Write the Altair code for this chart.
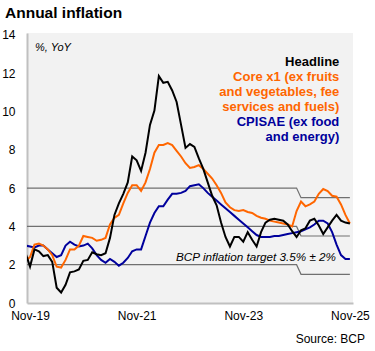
import altair as alt
import pandas as pd

# month index: 0 = Nov-19, 72 = Nov-25 (index -1 = Oct-19, clipped at the plot edge)
months = list(range(-1, 73))

headline = [2.6, 1.9, 2.8, 2.7, 2.45, 2.5, 2.15, 0.8, 0.55, 0.95, 1.6, 1.65, 1.75,
            2.2, 2.25, 2.65, 2.55, 2.5, 2.6, 3.4, 4.6, 5.2, 5.7, 6.3, 7.65,
            7.45, 6.9, 7.85, 9.3, 10.05, 11.85, 11.5, 11.55, 11.1, 10.5, 9.3, 8.1,
            8.3, 8.15, 7.55, 7.0, 6.3, 5.6, 5.1, 4.2, 3.45, 2.95, 3.45, 3.45,
            3.2, 3.7, 3.3, 2.95, 3.7, 4.2, 4.35, 4.4, 4.35, 4.3, 4.1, 3.75,
            3.45, 3.8, 3.9, 4.3, 4.4, 4.05, 3.6, 3.95, 4.3, 4.6, 4.3, 4.2, 4.15]

core = [2.2, 2.4, 3.05, 3.1, 3.0, 2.8, 2.5, 1.9, 1.85, 2.25, 2.8, 2.8, 3.0,
        3.5, 3.45, 3.4, 3.25, 3.3, 3.4, 4.1, 4.45, 4.6, 5.2, 5.75, 6.15,
        6.15, 5.85, 6.3, 7.0, 7.85, 8.25, 8.25, 8.35, 8.25, 7.95, 7.65, 7.3,
        7.05, 7.1, 7.2, 7.0, 6.75, 6.5, 6.15, 5.75, 5.25, 5.0, 4.85, 4.8,
        4.85, 4.75, 4.7, 4.55, 4.45, 4.4, 4.3, 4.25, 4.2, 4.15, 4.1, 4.0,
        4.8, 5.3, 5.05, 5.15, 5.3, 5.7, 5.95, 5.85, 5.6, 5.55, 5.15, 4.6, 4.15]

cpisae = [3.0, 2.95, 2.9, 3.0, 3.0, 2.8, 2.6, 2.4, 2.5, 3.0, 3.2, 3.05, 2.95,
          3.0, 3.1, 2.85, 2.5, 2.25, 2.1, 2.3, 2.15, 1.95, 2.1, 2.35, 2.7,
          2.8, 2.8, 3.5, 4.2, 4.7, 5.05, 5.05, 5.4, 5.7, 5.7, 5.75, 5.85,
          6.1, 6.15, 6.2, 6.0, 5.75, 5.55, 5.35, 5.15, 4.95, 4.75, 4.55, 4.35,
          4.15, 3.95, 3.75, 3.55, 3.45, 3.45, 3.45, 3.5, 3.5, 3.55, 3.6, 3.65,
          3.7, 3.75, 3.85, 3.95, 4.1, 4.3, 4.3, 4.15, 3.7, 3.05, 2.5, 2.3, 2.3]

# BCP inflation target band (4% until Nov-24, 3.5% from Dec-24, +/- 2%)
target_months = [-1, 60, 61, 72]
target_upper = [6.0, 6.0, 5.5, 5.5]
target_center = [4.0, 4.0, 3.5, 3.5]
target_lower = [2.0, 2.0, 1.5, 1.5]

x_tick_values = [0, 24, 48, 72]
x_tick_labels = ["Nov-19", "Nov-21", "Nov-23", "Nov-25"]
y_tick_values = [0, 2, 4, 6, 8, 10, 12, 14]

FONT = "Liberation Sans"
ORANGE = "#FF6600"
BLUE = "#00009C"
GREY_LINE = "#707070"

series_df = pd.DataFrame({"m": months, "headline": headline, "core": core, "cpisae": cpisae})
target_df = pd.DataFrame({"m": target_months, "upper": target_upper,
                          "center": target_center, "lower": target_lower})

label_expr = "[" + ",".join("'%s'" % s for s in x_tick_labels) + "][indexof([" + \
    ",".join(str(v) for v in x_tick_values) + "], datum.value)]"

x_enc = alt.X("m:Q",
              scale=alt.Scale(domain=[-0.68, 72.7], nice=False, zero=False),
              axis=alt.Axis(values=x_tick_values, labelExpr=label_expr, title=None,
                            grid=False, ticks=False, labelPadding=7, labelFontSize=12,
                            labelFont=FONT, labelColor="black", domainColor="#c0c0c0",
                            domainWidth=2, labelFlush=False, labelOverlap=False))

def y_enc(field):
    return alt.Y(field + ":Q",
                 scale=alt.Scale(domain=[0, 14.1], nice=False),
                 axis=alt.Axis(values=y_tick_values, title=None, grid=False, ticks=False,
                               labelPadding=12, labelFontSize=12, labelFont=FONT,
                               labelColor="black", domainColor="#c0c0c0", domainWidth=2))

layers = []
tbase = alt.Chart(target_df)
for fld in ["upper", "center", "lower"]:
    layers.append(tbase.mark_line(color=GREY_LINE, strokeWidth=1.2, clip=True)
                  .encode(x=x_enc, y=y_enc(fld)))

sbase = alt.Chart(series_df)
for fld, col in [("cpisae", BLUE), ("core", ORANGE), ("headline", "black")]:
    layers.append(sbase.mark_line(color=col, strokeWidth=2, clip=True)
                  .encode(x=x_enc, y=y_enc(fld)))

one = pd.DataFrame({"k": [0]})

def txt(text, x, y, size, color="black", align="left", weight="normal", style="normal", lh=None):
    kw = dict(align=align, baseline="alphabetic", fontSize=size, font=FONT,
              fontWeight=weight, fontStyle=style, color=color)
    if lh is not None:
        kw["lineHeight"] = lh
    return alt.Chart(one).mark_text(**kw).encode(
        x=alt.value(x), y=alt.value(y), text=alt.value(text))

layers += [
    txt("Annual inflation", -22, -15.5, 15.5, weight="bold"),
    txt("%, YoY", 8, 18, 11, style="italic"),
    txt("Headline", 312.3, 33, 13, weight="bold"),
    txt(["Core x1 (ex fruits", "and vegetables, fee", "services and fuels)"],
        312.3, 48, 13, color=ORANGE, align="right", weight="bold", lh=14.8),
    txt(["CPISAE (ex food", "and energy)"], 312.3, 92.5, 13, color=BLUE,
        align="right", weight="bold", lh=15),
    txt("BCP inflation target 3.5% \u00b1 2%", 309, 227.5, 11.7, align="right", style="italic"),
    txt("Source: BCP", 338, 310, 12, align="right"),
]
# Headline label is right-aligned too
layers[-5] = txt("Headline", 312.3, 33, 13, align="right", weight="bold")

chart = alt.layer(*layers).properties(
    width=326, height=270,
    padding={"left": 27, "top": 33, "right": 22, "bottom": 48},
    autosize=alt.AutoSizeParams(type="none"),
    background="white",
).configure_view(fill="#f2f2f2", stroke=None)

chart.save("out.html", embed_options={"renderer": "svg", "actions": False})
